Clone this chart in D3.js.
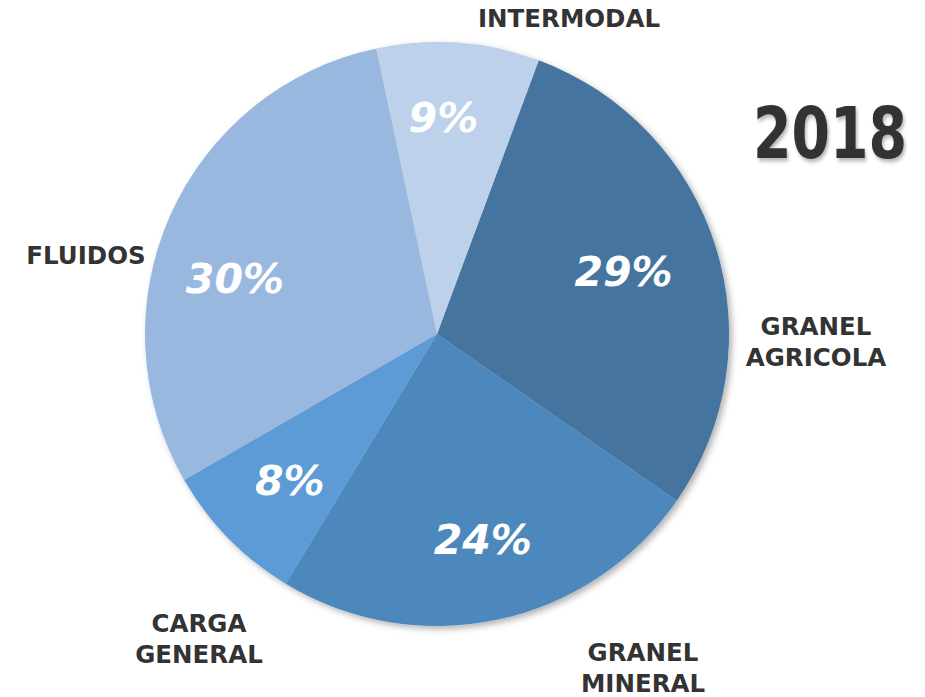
<!DOCTYPE html>
<html>
<head>
<meta charset="utf-8">
<script src="https://cdn.jsdelivr.net/npm/d3@7"></script>
<style>
  html, body { margin: 0; padding: 0; background: #fff; }
  svg { display: block; }
  .cat { font-family: "DejaVu Sans", Verdana, sans-serif; font-weight: 700; fill: #333; }
  .pct { font-family: "DejaVu Sans", Verdana, sans-serif; font-weight: 700; font-style: italic; fill: #fff; }
</style>
</head>
<body>
<div id="chart"></div>
<script>
// slice order, clockwise from the top-right
const categories = ['GRANEL AGRICOLA', 'GRANEL MINERAL', 'CARGA GENERAL', 'FLUIDOS', 'INTERMODAL'];
const shares = [29, 24, 8, 30, 9];
const pctLabels = ['29%', '24%', '8%', '30%', '9%'];
const colors = ['#44749f', '#4e88bd', '#5b9bd5', '#98b8e0', '#bdd1ea'];
const year = '2018';

const W = 925, H = 697;
const cx = 437, cy = 334, R = 292;
const start = (20.4 * Math.PI) / 180;

const svg = d3.select('#chart').append('svg').attr('width', W).attr('height', H);

const defs = svg.append('defs');
const sh = defs.append('filter').attr('id', 'shadow')
  .attr('x', '-10%').attr('y', '-10%').attr('width', '120%').attr('height', '120%');
sh.append('feDropShadow').attr('dx', 3).attr('dy', 3).attr('stdDeviation', 3)
  .attr('flood-color', '#000').attr('flood-opacity', 0.3);
const tsh = defs.append('filter').attr('id', 'tshadow')
  .attr('x', '-20%').attr('y', '-30%').attr('width', '140%').attr('height', '160%');
tsh.append('feDropShadow').attr('dx', 2).attr('dy', 3).attr('stdDeviation', 2)
  .attr('flood-color', '#000').attr('flood-opacity', 0.3);

const data = categories.map((c, i) => ({ name: c, value: shares[i], label: pctLabels[i], color: colors[i] }));

const pie = d3.pie().value((d) => d.value).sort(null).startAngle(start).endAngle(start + 2 * Math.PI);
const arc = d3.arc().innerRadius(0).outerRadius(R);
const labelArc = d3.arc().innerRadius(R * 0.72).outerRadius(R * 0.72);

const g = svg.append('g').attr('transform', `translate(${cx},${cy})`);

g.append('g').attr('filter', 'url(#shadow)')
  .selectAll('path')
  .data(pie(data))
  .join('path')
  .attr('d', arc)
  .attr('fill', (d) => d.data.color);

// small nudges so the % labels sit where the original puts them
const pctNudge = {
  'GRANEL AGRICOLA': [-14, 0],
  'GRANEL MINERAL': [2, 0],
  'CARGA GENERAL': [3, -1],
  'FLUIDOS': [-10, 30],
  'INTERMODAL': [-9, -7]
};
g.selectAll('text.pct')
  .data(pie(data))
  .join('text')
  .attr('class', 'pct')
  .attr('transform', (d) => {
    const [x, y] = labelArc.centroid(d);
    const [nx, ny] = pctNudge[d.data.name];
    return `translate(${x + nx},${y + ny})`;
  })
  .attr('text-anchor', 'middle')
  .attr('dy', '0.36em')
  .attr('font-size', '41px')
  .text((d) => d.data.label);

// category labels sit outside the pie, relative to its centre
const catPos = {
  'GRANEL AGRICOLA': [379, 8],
  'GRANEL MINERAL': [206, 334],
  'CARGA GENERAL': [-238, 305],
  'FLUIDOS': [-351, -79],
  'INTERMODAL': [132, -316]
};
const lineH = 31;
data.forEach((d) => {
  const words = d.name.split(' ');
  const [x, y] = catPos[d.name];
  const t = g.append('text').attr('class', 'cat')
    .attr('text-anchor', 'middle')
    .attr('font-size', '24.5px')
    .attr('x', x).attr('y', y - ((words.length - 1) * lineH) / 2);
  words.forEach((w, j) => {
    t.append('tspan').attr('x', x).attr('dy', j === 0 ? '0.36em' : lineH).text(w);
  });
});

svg.append('g')
  .attr('transform', 'translate(830,158) scale(0.78,1)')
  .attr('filter', 'url(#tshadow)')
  .append('text')
  .attr('class', 'cat')
  .attr('text-anchor', 'middle')
  .attr('font-size', '71px')
  .text(year);
</script>
</body>
</html>
